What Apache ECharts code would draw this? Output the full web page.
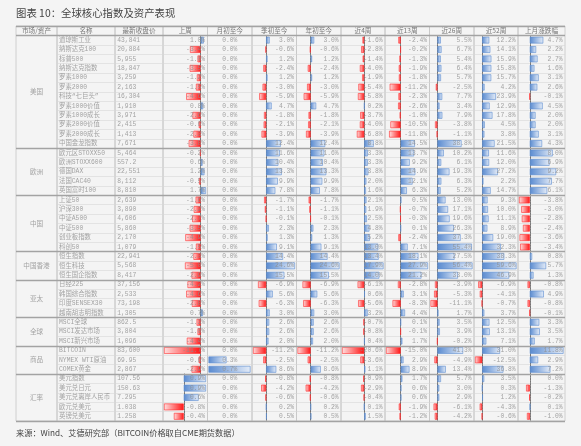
<!DOCTYPE html>
<html><head><meta charset="utf-8">
<script src="https://cdn.jsdelivr.net/npm/echarts@6/dist/echarts.min.js"></script>
<style>html,body{margin:0;padding:0;background:#f4f4f4;}#c{width:581px;height:446px;}</style>
</head><body><div id="c"></div>
<script>
// ---------------- data ----------------
const titleText = '图表 10：全球核心指数及资产表现';
const sourceText = '来源：Wind、艾德研究部（BITCOIN价格取自CME期货数据）';
const headers = ['市场/资产','名称','最新收盘价','上周','月初至今','季初至今','年初至今','近4周','近13周','近26周','近52周','上月涨跌幅'];
const groups = ['美国','欧洲','中国','中国香港','亚太','全球','商品','汇率'];
const groupSizes = [12,5,6,3,4,3,3,5];
const names = ['道琼斯工业','纳斯达克100','标普500','纳斯达克指数','罗素1000','罗素2000','科技“七巨头”','罗素1000价值','罗素1000成长','罗素2000价值','罗素2000成长','中国金龙指数',
 '欧元区STOXX50','欧洲STOXX600','德国DAX','法国CAC40','英国富时100',
 '上证50','沪深300','中证A500','中证500','创业板指数','科创50',
 '恒生指数','恒生科技','恒生国企指数',
 '日经225','韩国综合指数','印度SENSEX30','越南胡志明指数',
 'MSCI全球','MSCI发达市场','MSCI新兴市场',
 'BITCOIN','NYMEX WTI原油','COMEX黄金',
 '美元指数','美元兑日元','美元兑离岸人民币','欧元兑美元','英镑兑美元'];
const closes = ['43,841','20,884','5,955','18,847','3,259','2,163','16,304','1,910','3,971','2,415','1,413','7,671',
 '5,464','557.2','22,551','8,112','8,810',
 '2,639','3,890','4,606','5,860','2,170','1,079',
 '22,941','5,568','8,417',
 '37,156','2,533','73,198','1,305',
 '862.5','3,804','1,096',
 '83,600','69.95','2,867',
 '107.56','150.63','7.295','1.038','1.258'];
const lastWeek = [1.0,-3.4,-1.0,-3.5,-1.2,-1.5,-4.6,0.8,-2.6,-0.6,-2.3,-3.8,
 -0.2,0.6,1.2,-0.5,1.7,
 -1.6,-2.2,-2.7,-3.5,-4.9,-1.5,
 -2.3,-5.0,-2.9,
 -4.2,-4.6,-2.8,0.7,
 -1.3,-1.0,-4.4,
 -11.7,-0.6,-2.9,
 0.9,0.9,0.6,-0.8,-0.4];
const monthToDate = [0.0,0.0,0.0,0.0,0.0,0.0,0.0,0.0,0.0,0.0,0.0,0.0,
 0.0,0.0,0.0,0.0,0.0,
 0.0,0.0,0.0,0.0,0.0,0.0,
 0.0,0.0,0.0,
 0.0,0.0,0.0,0.0,
 0.0,0.0,0.0,
 0.0,0.3,0.7,
 0.0,0.0,0.0,0.0,0.0];
const quarterToDate = [3.0,-0.6,1.2,-2.4,1.2,-3.0,-5.9,4.7,-1.8,-2.1,-3.9,12.4,
 11.6,10.4,13.3,9.9,7.8,
 -1.7,-1.1,-0.1,2.3,1.3,9.1,
 14.4,24.6,15.5,
 -6.9,5.6,-6.3,3.0,
 2.6,2.6,2.0,
 -11.2,-2.5,8.6,
 -0.8,-4.2,-0.6,0.2,0.5];
const yearToDate = [3.0,-0.6,1.2,-2.4,1.2,-3.0,-5.9,4.7,-1.8,-2.1,-3.9,12.4,
 11.6,10.4,13.3,9.9,7.8,
 -1.7,-1.1,-0.1,2.3,1.3,9.1,
 14.4,24.6,15.5,
 -6.9,5.6,-6.3,3.0,
 2.6,2.6,2.0,
 -11.2,-2.5,8.6,
 -0.8,-4.2,-0.6,0.2,0.5];
const weeks4 = [-1.6,-2.8,-1.4,-4.0,-1.9,-5.4,-5.8,0.2,-3.7,-4.0,-6.8,8.8,
 3.3,3.3,3.8,2.0,1.6,
 2.1,1.9,2.5,4.8,5.2,13.0,
 13.4,17.9,14.0,
 -6.1,0.6,-5.6,3.2,
 -0.7,-0.8,0.4,
 -20.6,-3.6,1.1,
 -0.9,-2.9,-0.4,0.1,1.5];
const weeks13 = [-2.4,-0.2,-1.3,-1.9,-1.8,-11.2,-2.3,-2.6,-1.0,-10.5,-11.8,14.5,
 13.7,9.2,14.9,12.1,6.3,
 0.5,-0.7,-0.3,0.1,-2.4,7.1,
 18.1,27.9,21.2,
 -2.8,3.1,-8.3,4.4,
 0.1,-0.1,1.7,
 -15.0,2.9,8.9,
 1.7,0.6,0.6,-1.9,-1.2];
const weeks26 = [5.5,6.7,5.4,6.4,5.7,-2.5,7.7,3.4,7.9,-3.8,-1.1,38.8,
 10.2,6.1,19.3,6.3,5.2,
 13.0,17.1,19.6,26.3,37.3,55.4,
 27.5,56.4,33.0,
 -3.9,-5.3,-11.1,1.7,
 3.5,3.9,-0.2,
 41.3,-4.9,13.4,
 5.7,3.0,2.9,-6.1,-4.2];
const weeks52 = [12.2,14.1,15.9,15.8,15.7,4.2,23.9,12.9,17.8,4.5,3.8,21.5,
 11.6,12.0,27.2,2.2,14.7,
 9.3,10.0,11.1,8.9,19.0,32.3,
 38.3,59.6,46.9,
 -6.9,-4.1,-0.7,3.7,
 12.5,13.1,7.1,
 31.0,-12.5,36.8,
 3.5,0.3,1.2,-4.3,-0.6];
const lastMonth = [4.7,2.2,2.7,1.6,3.1,2.6,-0.1,4.5,2.0,2.0,3.1,4.3,
 8.0,6.9,9.2,7.7,6.1,
 -3.8,-3.0,-2.8,-2.4,-3.6,-3.4,
 0.8,5.7,1.3,
 -0.8,4.9,-0.8,-0.1,
 3.3,3.5,1.7,
 11.8,2.9,7.2,
 0.0,-1.3,-0.2,0.1,-1.0];

// ---------------- layout / style ----------------
const EDGES = [16,57,115,163,207.5,252,296.5,341,385,429.5,474,518,565];
const TOP = 26, BOTTOM = 421;
const N = names.length;
const ROWH = (BOTTOM - TOP) / (N + 1);
const pctCols = [lastWeek, monthToDate, quarterToDate, yearToDate, weeks4, weeks13, weeks26, weeks52, lastMonth];
const pctAlign = ['right','center','right','right','right','right','right','right','right'];
const FONT_CJK = "'Noto Sans CJK SC', sans-serif";
const FONT_NUM = "'Liberation Mono', 'Noto Sans CJK SC', monospace";
const TEXT_COLOR = '#8d8d8d';

const groupStarts = [];
groupSizes.reduce((acc, s) => { groupStarts.push(acc); return acc + s; }, 0);
const fxStart = groupStarts[groupStarts.length - 1];
// the 上周 column's FX block has its own data-bar scale in the source
const segBreaks = [[fxStart],[],[],[],[],[],[],[],[]];

const grid = [], xAxis = [], yAxis = [], series = [];

// whole table grid: heavy separators
grid.push({left: EDGES[0], top: TOP, width: EDGES[EDGES.length-1]-EDGES[0], height: BOTTOM-TOP, show:false});
xAxis.push({type:'value', gridIndex:0, min:0, max:1, show:false});
yAxis.push({type:'value', gridIndex:0, min:0, max:N+1, inverse:true, show:false});
const sepLines = [0, 1].concat(groupStarts.slice(1).map(s => s + 1)).concat([N + 1]);
series.push({type:'scatter', xAxisIndex:0, yAxisIndex:0, data:[[0,0]], symbolSize:0, silent:true, z:8,
  markLine:{silent:true, symbol:['none','none'], label:{show:false}, animation:false,
    lineStyle:{color:'#a3a3a3', width:1.3, type:'solid'},
    data: sepLines.map(v => ({yAxis: v}))}});

// column frames + texts
for (let j = 0; j < headers.length; j++) {
  const gi = grid.length;
  grid.push({left: EDGES[j], top: TOP, width: EDGES[j+1]-EDGES[j], height: BOTTOM-TOP, show:true,
    borderColor:'#c6c6c6', borderWidth:0.8, backgroundColor:'transparent'});
  xAxis.push({type:'value', gridIndex:gi, min:0, max:1, show:false});
  yAxis.push({type:'value', gridIndex:gi, min:0, max:N+1, interval:1, inverse:true,
    axisLine:{show:false}, axisTick:{show:false}, axisLabel:{show:false},
    splitLine:{show: j > 0, lineStyle:{color:'#d6d6d6', width:0.6}}});
  // header
  series.push({type:'scatter', xAxisIndex:gi, yAxisIndex:gi, data:[[0.5,0.5]], symbolSize:0, silent:true, z:9,
    label:{show:true, position:'inside', formatter: headers[j], color:'#555', fontSize:6.6, fontFamily:FONT_CJK}});
  let data, label;
  if (j === 0) {
    data = groups.map((g,k) => [0.5, 1 + groupStarts[k] + groupSizes[k]/2]);
    label = {position:'inside', formatter: p => groups[p.dataIndex], fontFamily:FONT_CJK, fontSize:6.6};
  } else if (j === 1) {
    data = names.map((n,i) => [0, i + 1.5]);
    label = {position:'right', distance:2, formatter: p => names[p.dataIndex], fontFamily:FONT_NUM, fontSize:6.4};
  } else if (j === 2) {
    data = closes.map((c,i) => [0, i + 1.5]);
    label = {position:'right', distance:2.3, formatter: p => closes[p.dataIndex], fontFamily:FONT_NUM, fontSize:6.3};
  } else {
    const k = j - 3, vals = pctCols[k];
    if (pctAlign[k] === 'center') {
      data = vals.map((v,i) => [0.5, i + 1.5]);
      label = {position:'inside'};
    } else {
      data = vals.map((v,i) => [1, i + 1.5]);
      label = {position:'left', distance:2.5};
    }
    label.formatter = p => vals[p.dataIndex].toFixed(1) + '%';
    label.fontFamily = FONT_NUM; label.fontSize = 6.3;
  }
  label.show = true; label.color = TEXT_COLOR;
  series.push({type:'scatter', xAxisIndex:gi, yAxisIndex:gi, data, symbolSize:0, silent:true, z:9, label});
}

// data bars
const LG = echarts.graphic.LinearGradient;
function barStyle(v) {
  if (v > 0) return {color: new LG(0,0,1,0,[{offset:0,color:'#5a8bd0'},{offset:1,color:'#e4ecf8'}]), borderColor:'#5a8bd0', borderWidth:0.6};
  if (v < 0) return {color: new LG(0,0,1,0,[{offset:0,color:'#ffe0e0'},{offset:1,color:'#ff1414'}]), borderColor:'#ff2a2a', borderWidth:0.6};
  return {color:'rgba(0,0,0,0)', borderWidth:0};
}
for (let k = 0; k < pctCols.length; k++) {
  const cuts = [0].concat(segBreaks[k]).concat([N]);
  const left = EDGES[k+3] + 1, right = EDGES[k+4] - 1.5;
  for (let s = 0; s < cuts.length - 1; s++) {
    const a = cuts[s], b = cuts[s+1];
    const vals = pctCols[k].slice(a, b);
    const mn = Math.min(0, ...vals);
    let mx = Math.max(0, ...vals);
    if (mx === mn) mx = 1;
    const gi = grid.length;
    grid.push({left, width: right-left, top: TOP + ROWH*(1+a), height: ROWH*(b-a), show:false});
    xAxis.push({type:'value', gridIndex:gi, min:mn, max:mx, show:false});
    yAxis.push({type:'category', gridIndex:gi, data: names.slice(a,b), inverse:true,
      axisLine:{show: mn < 0, onZero:true, lineStyle:{color:'#555', type:'dotted', width:0.8}},
      axisTick:{show:false}, axisLabel:{show:false}, splitLine:{show:false}});
    series.push({type:'bar', xAxisIndex:gi, yAxisIndex:gi, silent:true, z:3, barWidth:'72%',
      data: vals.map(v => ({value: v, itemStyle: barStyle(v)}))});
  }
}

const chart = echarts.init(document.getElementById('c'), null, {renderer:'canvas'});
chart.setOption({
  backgroundColor:'#f4f4f4',
  animation:false,
  title:[
    {text:titleText, left:16, top:7.5, padding:0, textStyle:{fontSize:10.4, fontWeight:'normal', fontFamily:"'Noto Sans CJK SC'", color:'#444'}},
    {text:sourceText, left:16, top:428.5, padding:0, textStyle:{fontSize:8.2, fontWeight:'normal', fontFamily:"'Noto Sans CJK SC'", color:'#444'}}
  ],
  grid, xAxis, yAxis, series
});
</script>
</body></html>
